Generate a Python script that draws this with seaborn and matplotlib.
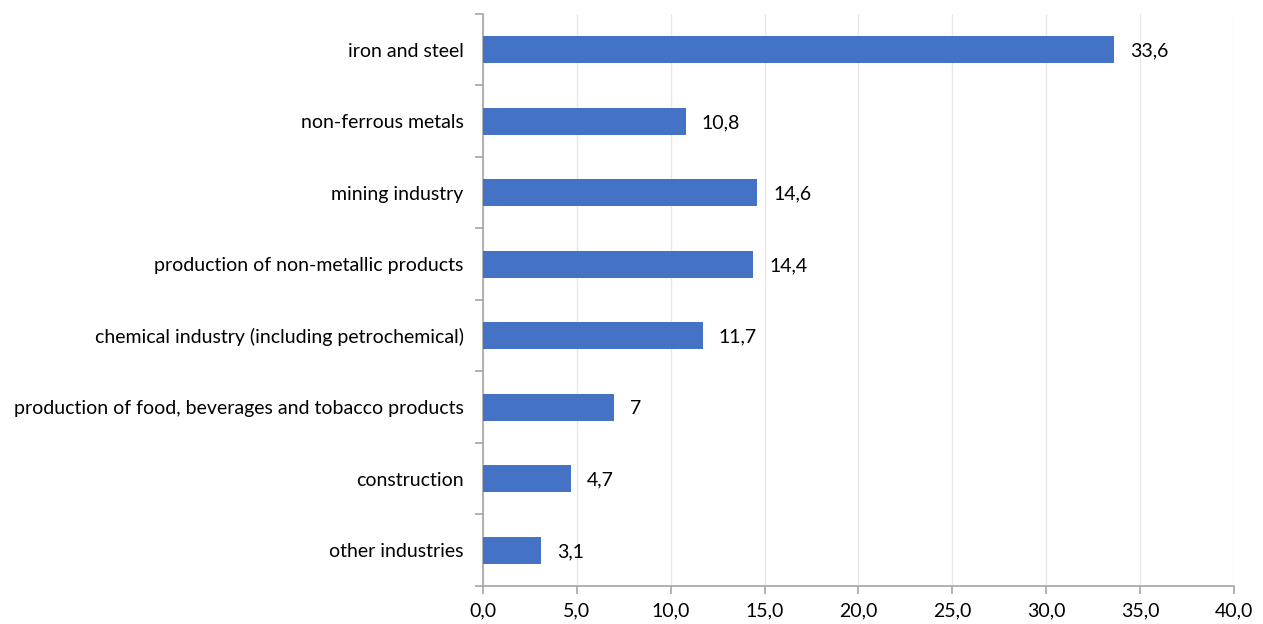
import pandas as pd
from matplotlib import pyplot as plt
from matplotlib.ticker import FixedLocator
import seaborn as sns
import numpy as np

categories = ['iron and steel', 'non-ferrous metals', 'mining industry',
              'production of non-metallic products',
              'chemical industry (including petrochemical)',
              'production of food, beverages and tobacco products',
              'construction', 'other industries']
values = [33.6, 10.8, 14.6, 14.4, 11.7, 7.0, 4.7, 3.1]
value_labels = ['33,6', '10,8', '14,6', '14,4', '11,7', '7', '4,7', '3,1']
x_ticks = [0, 5, 10, 15, 20, 25, 30, 35, 40]

df = pd.DataFrame({'category': categories, 'value': values})

sns.set_style('white')
plt.rcParams['font.family'] = ['Lato', 'DejaVu Sans']

fig = plt.figure(figsize=(12.63, 6.24), dpi=100)
ax = fig.add_axes([0.3824, 0.061, 0.5946, 0.9166])

sns.barplot(data=df, x='value', y='category', color='#4472C4', width=0.38,
            saturation=1, linewidth=0, ax=ax, zorder=3)

for i, (v, lab) in enumerate(zip(values, value_labels)):
    ax.text(v + 0.85, i, lab, va='center_baseline', ha='left', fontsize=14, color='#000000')

ax.set_xlim(0, 40)
ax.set_ylim(len(categories) - 0.5, -0.5)
ax.set_xticks(x_ticks)
ax.set_xticklabels([f'{t:.1f}'.replace('.', ',') for t in x_ticks], fontsize=14)
ax.tick_params(axis='y', which='major', length=0, labelsize=14, pad=14, labelcolor='#000000')
ax.yaxis.set_minor_locator(FixedLocator(np.arange(-0.5, len(categories), 1.0)))
ax.tick_params(axis='y', which='minor', left=True, length=6, color='#a6a6a6', width=1.2)
ax.tick_params(axis='x', bottom=True, length=6, color='#a6a6a6', width=1.2, pad=6,
               labelcolor='#000000')
ax.xaxis.grid(True, color='#e8e8e8', linewidth=1, zorder=0)
ax.set_xlabel('')
ax.set_ylabel('')

for s in ['top', 'right']:
    ax.spines[s].set_visible(False)
for s in ['left', 'bottom']:
    ax.spines[s].set_color('#a6a6a6')
    ax.spines[s].set_linewidth(1.2)

fig.savefig('out.png', dpi=100)
